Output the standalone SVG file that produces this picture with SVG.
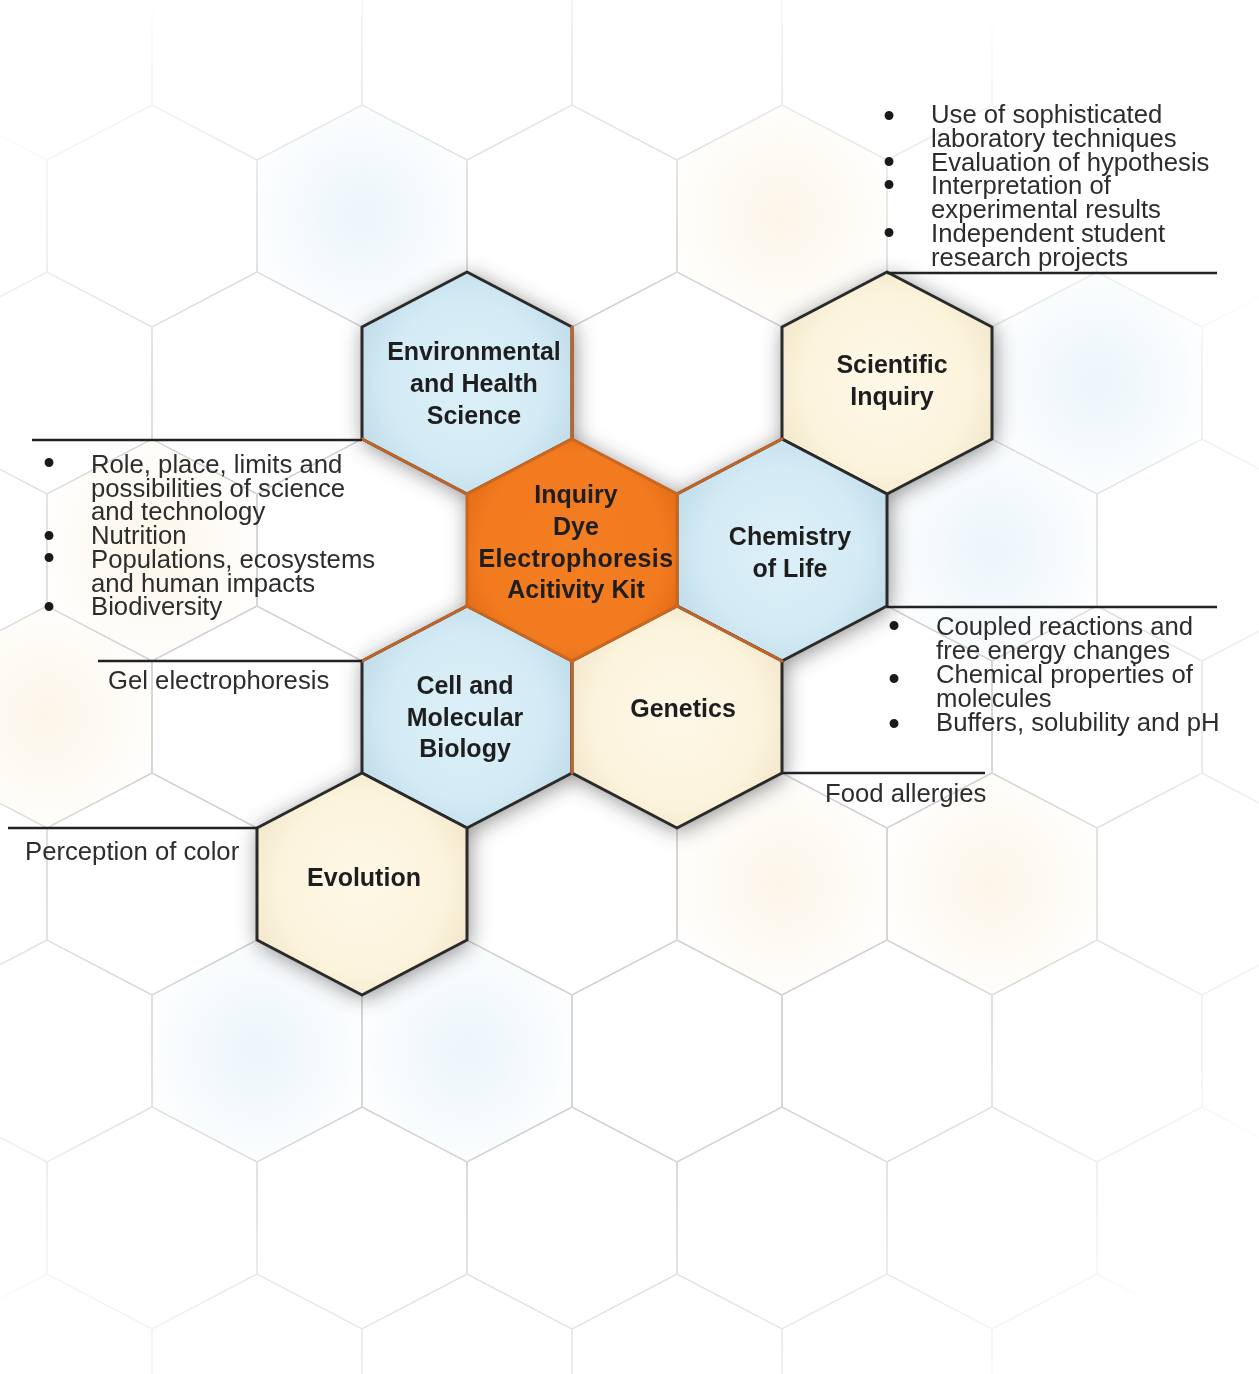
<svg xmlns="http://www.w3.org/2000/svg" width="1259" height="1374" viewBox="0 0 1259 1374">
<defs>
<path id="hx" d="M0,-111 L105,-56 L105,56 L0,111 L-105,56 L-105,-56 Z"/>
<radialGradient id="gBlue" cx="0.5" cy="0.5" r="0.62">
<stop offset="0" stop-color="#dcf0f8"/><stop offset="0.6" stop-color="#d4ebf5"/><stop offset="1" stop-color="#b9d8e5"/>
</radialGradient>
<radialGradient id="gCream" cx="0.5" cy="0.5" r="0.62">
<stop offset="0" stop-color="#fef8e7"/><stop offset="0.65" stop-color="#fcf3dc"/><stop offset="1" stop-color="#efe3c5"/>
</radialGradient>
<radialGradient id="gOrange" cx="0.5" cy="0.5" r="0.62">
<stop offset="0" stop-color="#f47e22"/><stop offset="0.7" stop-color="#f27a1f"/><stop offset="1" stop-color="#df6712"/>
</radialGradient>
<radialGradient id="bgBlue" cx="0.5" cy="0.5" r="0.6">
<stop offset="0" stop-color="#e6f3f9" stop-opacity="0.8"/><stop offset="1" stop-color="#e6f3f9" stop-opacity="0"/>
</radialGradient>
<radialGradient id="bgCream" cx="0.5" cy="0.5" r="0.6">
<stop offset="0" stop-color="#fcf4e3" stop-opacity="0.8"/><stop offset="1" stop-color="#fcf4e3" stop-opacity="0"/>
</radialGradient>
<radialGradient id="fade" gradientUnits="userSpaceOnUse" cx="560" cy="720" r="840">
<stop offset="0" stop-color="#fff"/><stop offset="0.5" stop-color="#fff"/><stop offset="1" stop-color="#000"/>
</radialGradient>
<mask id="fadeMask"><rect width="1259" height="1374" fill="url(#fade)"/></mask>
<filter id="sh" x="-30%" y="-30%" width="160%" height="160%"><feGaussianBlur stdDeviation="11"/></filter>
<style>
.grid use{fill:none;stroke:#d2d2d2;stroke-width:1.3}
.hexo{stroke:#2a2a2a;stroke-width:3;stroke-linejoin:round}
.blue{fill:url(#gBlue)}
.cream{fill:url(#gCream)}
.orange{fill:url(#gOrange);stroke:#c9661f;stroke-width:3}
.lbl{font-family:"Liberation Sans",Arial,sans-serif;font-weight:bold;font-size:25px;fill:#1e1e1e;text-anchor:middle}
.txt{font-family:"Liberation Sans",Arial,sans-serif;font-size:25.7px;fill:#2d2d2d}
.bul{font-family:"Liberation Sans",Arial,sans-serif;font-size:33px;fill:#1a1a1a;text-anchor:middle}
.conn line{stroke:#222;stroke-width:2.5}
.acc line{stroke:#c0652a;stroke-width:3;stroke-linecap:round}
</style>
</defs>

<rect width="1259" height="1374" fill="#ffffff"/>

<g id="bg-fills">
<use href="#hx" x="362" y="216" fill="url(#bgBlue)"/>
<use href="#hx" x="782" y="216" fill="url(#bgCream)"/>
<use href="#hx" x="1097" y="383" fill="url(#bgBlue)"/>
<use href="#hx" x="992" y="550" fill="url(#bgBlue)"/>
<use href="#hx" x="152" y="550" fill="url(#bgCream)"/>
<use href="#hx" x="47" y="717" fill="url(#bgCream)"/>
<use href="#hx" x="257" y="1051" fill="url(#bgBlue)"/>
<use href="#hx" x="467" y="1051" fill="url(#bgBlue)"/>
<use href="#hx" x="782" y="884" fill="url(#bgCream)"/>
<use href="#hx" x="992" y="884" fill="url(#bgCream)"/>
</g>

<g class="grid" mask="url(#fadeMask)">
<use href="#hx" x="-58" y="-118"/><use href="#hx" x="152" y="-118"/><use href="#hx" x="362" y="-118"/><use href="#hx" x="572" y="-118"/><use href="#hx" x="782" y="-118"/><use href="#hx" x="992" y="-118"/><use href="#hx" x="1202" y="-118"/>
<use href="#hx" x="47" y="49"/><use href="#hx" x="257" y="49"/><use href="#hx" x="467" y="49"/><use href="#hx" x="677" y="49"/><use href="#hx" x="887" y="49"/><use href="#hx" x="1097" y="49"/><use href="#hx" x="1307" y="49"/>
<use href="#hx" x="-58" y="216"/><use href="#hx" x="152" y="216"/><use href="#hx" x="362" y="216"/><use href="#hx" x="572" y="216"/><use href="#hx" x="782" y="216"/><use href="#hx" x="992" y="216"/><use href="#hx" x="1202" y="216"/>
<use href="#hx" x="47" y="383"/><use href="#hx" x="257" y="383"/><use href="#hx" x="467" y="383"/><use href="#hx" x="677" y="383"/><use href="#hx" x="887" y="383"/><use href="#hx" x="1097" y="383"/><use href="#hx" x="1307" y="383"/>
<use href="#hx" x="-58" y="550"/><use href="#hx" x="152" y="550"/><use href="#hx" x="362" y="550"/><use href="#hx" x="572" y="550"/><use href="#hx" x="782" y="550"/><use href="#hx" x="992" y="550"/><use href="#hx" x="1202" y="550"/>
<use href="#hx" x="47" y="717"/><use href="#hx" x="257" y="717"/><use href="#hx" x="467" y="717"/><use href="#hx" x="677" y="717"/><use href="#hx" x="887" y="717"/><use href="#hx" x="1097" y="717"/><use href="#hx" x="1307" y="717"/>
<use href="#hx" x="-58" y="884"/><use href="#hx" x="152" y="884"/><use href="#hx" x="362" y="884"/><use href="#hx" x="572" y="884"/><use href="#hx" x="782" y="884"/><use href="#hx" x="992" y="884"/><use href="#hx" x="1202" y="884"/>
<use href="#hx" x="47" y="1051"/><use href="#hx" x="257" y="1051"/><use href="#hx" x="467" y="1051"/><use href="#hx" x="677" y="1051"/><use href="#hx" x="887" y="1051"/><use href="#hx" x="1097" y="1051"/><use href="#hx" x="1307" y="1051"/>
<use href="#hx" x="-58" y="1218"/><use href="#hx" x="152" y="1218"/><use href="#hx" x="362" y="1218"/><use href="#hx" x="572" y="1218"/><use href="#hx" x="782" y="1218"/><use href="#hx" x="992" y="1218"/><use href="#hx" x="1202" y="1218"/>
<use href="#hx" x="47" y="1385"/><use href="#hx" x="257" y="1385"/><use href="#hx" x="467" y="1385"/><use href="#hx" x="677" y="1385"/><use href="#hx" x="887" y="1385"/><use href="#hx" x="1097" y="1385"/><use href="#hx" x="1307" y="1385"/>
</g>

<g id="shadows" fill="#3a3a3a" opacity="0.6" filter="url(#sh)">
<use href="#hx" x="469" y="386"/><use href="#hx" x="889" y="386"/><use href="#hx" x="574" y="553"/><use href="#hx" x="784" y="553"/><use href="#hx" x="469" y="720"/><use href="#hx" x="679" y="720"/><use href="#hx" x="364" y="887"/>
</g>

<g id="node-environmental">
<use href="#hx" x="467" y="383" class="hexo blue"/>
<text class="lbl" x="474" y="360">Environmental</text>
<text class="lbl" x="474" y="392">and Health</text>
<text class="lbl" x="474" y="424">Science</text>
</g>
<g id="node-scientific-inquiry">
<use href="#hx" x="887" y="383" class="hexo cream"/>
<text class="lbl" x="892" y="373">Scientific</text>
<text class="lbl" x="892" y="405">Inquiry</text>
</g>
<g id="node-chemistry-of-life">
<use href="#hx" x="782" y="550" class="hexo blue"/>
<text class="lbl" x="790" y="545">Chemistry</text>
<text class="lbl" x="790" y="577">of Life</text>
</g>
<g id="node-cell-molecular-biology">
<use href="#hx" x="467" y="717" class="hexo blue"/>
<text class="lbl" x="465" y="694">Cell and</text>
<text class="lbl" x="465" y="726">Molecular</text>
<text class="lbl" x="465" y="757">Biology</text>
</g>
<g id="node-genetics">
<use href="#hx" x="677" y="717" class="hexo cream"/>
<text class="lbl" x="683" y="717">Genetics</text>
</g>
<g id="node-evolution">
<use href="#hx" x="362" y="884" class="hexo cream"/>
<text class="lbl" x="364" y="886">Evolution</text>
</g>

<g class="acc" id="inner-edges">
<line x1="572" y1="327" x2="572" y2="439"/>
<line x1="362" y1="439" x2="467" y2="494"/>
<line x1="677" y1="494" x2="782" y2="439"/>
<line x1="677" y1="606" x2="782" y2="661"/>
<line x1="362" y1="661" x2="467" y2="606"/>
<line x1="572" y1="661" x2="572" y2="773"/>
</g>

<g id="node-inquiry-kit">
<use href="#hx" x="572" y="550" class="orange"/>
<text class="lbl" x="576" y="503">Inquiry</text>
<text class="lbl" x="576" y="535">Dye</text>
<text class="lbl" x="576" y="567" letter-spacing="0.4">Electrophoresis</text>
<text class="lbl" x="576" y="598">Acitivity Kit</text>
</g>

<g class="conn" id="connectors">
<line x1="887" y1="273" x2="1217" y2="273"/>
<line x1="32" y1="440" x2="362" y2="440"/>
<line x1="887" y1="607" x2="1217" y2="607"/>
<line x1="98" y1="661" x2="362" y2="661"/>
<line x1="782" y1="773" x2="985" y2="773"/>
<line x1="8" y1="828" x2="258" y2="828"/>
</g>

<g id="notes-scientific-inquiry">
<text class="bul" x="889" y="127">•</text>
<text class="bul" x="889" y="173">•</text>
<text class="bul" x="889" y="196">•</text>
<text class="bul" x="889" y="244">•</text>
<text class="txt" x="931" y="123">Use of sophisticated</text>
<text class="txt" x="931" y="147">laboratory techniques</text>
<text class="txt" x="931" y="171">Evaluation of hypothesis</text>
<text class="txt" x="931" y="194">Interpretation of</text>
<text class="txt" x="931" y="218">experimental results</text>
<text class="txt" x="931" y="242">Independent student</text>
<text class="txt" x="931" y="266">research projects</text>
</g>

<g id="notes-environmental">
<text class="bul" x="49" y="474">•</text>
<text class="bul" x="49" y="547">•</text>
<text class="bul" x="49" y="569">•</text>
<text class="bul" x="49" y="618">•</text>
<text class="txt" x="91" y="473">Role, place, limits and</text>
<text class="txt" x="91" y="497">possibilities of science</text>
<text class="txt" x="91" y="520">and technology</text>
<text class="txt" x="91" y="544">Nutrition</text>
<text class="txt" x="91" y="568">Populations, ecosystems</text>
<text class="txt" x="91" y="592">and human impacts</text>
<text class="txt" x="91" y="615">Biodiversity</text>
</g>

<g id="notes-chemistry-of-life">
<text class="bul" x="894" y="637">•</text>
<text class="bul" x="894" y="690">•</text>
<text class="bul" x="894" y="735">•</text>
<text class="txt" x="936" y="635">Coupled reactions and</text>
<text class="txt" x="936" y="659">free energy changes</text>
<text class="txt" x="936" y="683">Chemical properties of</text>
<text class="txt" x="936" y="707">molecules</text>
<text class="txt" x="936" y="731">Buffers, solubility and pH</text>
</g>

<g id="notes-cell-molecular-biology">
<text class="txt" x="108" y="689">Gel electrophoresis</text>
</g>
<g id="notes-genetics">
<text class="txt" x="825" y="802">Food allergies</text>
</g>
<g id="notes-evolution">
<text class="txt" x="25" y="860">Perception of color</text>
</g>
</svg>
